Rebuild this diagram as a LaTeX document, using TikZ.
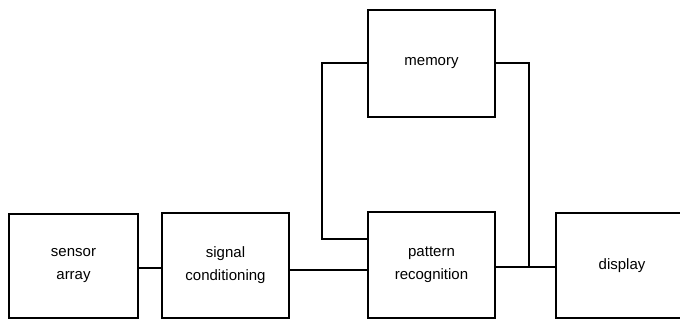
\documentclass[tikz,border=0pt]{standalone}
\usepackage{fontspec}
\setmainfont{Liberation Sans}
\begin{document}
\begin{tikzpicture}[x=1pt,y=-1pt,
  blockbox/.style={draw,line width=1.8pt,inner sep=0pt,align=center,
    font=\fontsize{15}{23}\selectfont},
  wire/.style={line width=1.1pt}]
\useasboundingbox (0,0) rectangle (680,322);
\node[blockbox,minimum width=129pt,minimum height=104pt] (sensor) at (73.5,266) {sensor\\array};
\node[blockbox,minimum width=127pt,minimum height=105pt] (signal) at (225.5,265.5) {signal\\conditioning};
\node[blockbox,minimum width=127pt,minimum height=106pt] (pattern) at (431.5,265) {pattern\\recognition};
\node[blockbox,minimum width=127pt,minimum height=107pt] (memory) at (431.5,63.5) {memory};
\node[blockbox,minimum width=132pt,minimum height=105pt] (display) at (622,265.5) {display};
\coordinate (jn) at (529,267);
\draw[wire] (sensor.east |- 0,268) -- (signal.west |- 0,268);
\draw[wire] (signal.east |- 0,270) -- (pattern.west |- 0,270);
\draw[wire] (pattern.east |- jn) -- (jn) -- (display.west |- jn);
\draw[wire] (memory.west |- 0,63) -- (322,63) -- (322,239) -- (pattern.west |- 0,239);
\draw[wire] (memory.east |- 0,63) -- (jn |- 0,63) -- (jn);
\end{tikzpicture}
\end{document}
